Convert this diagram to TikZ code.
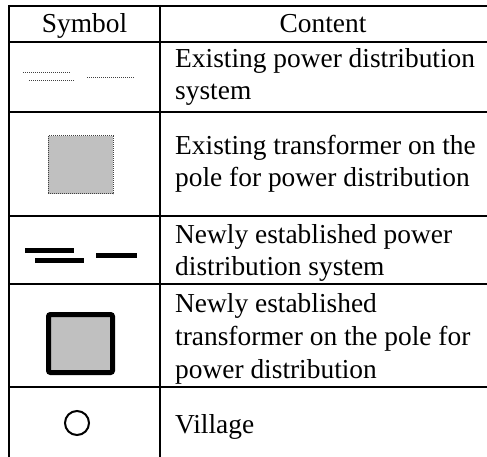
\documentclass[tikz,border=0pt]{standalone}
\usepackage{fontspec}
\setmainfont{Liberation Serif}
\definecolor{tgray}{HTML}{C0C0C0}
\tikzset{
  rule/.style={line width=2pt, line cap=rect},
  txt/.style={anchor=base west, inner sep=0pt, font=\fontsize{27.4}{32}\selectfont},
  hdr/.style={anchor=base, inner sep=0pt, font=\fontsize{27.4}{32}\selectfont},
  oldline/.style={line width=1pt, black!75, dash pattern=on 1pt off 1pt},
  newline/.style={line width=5pt, black},
  oldbox/.style={fill=tgray, draw=black!75, line width=1pt, dash pattern=on 1pt off 1pt},
  newbox/.style={fill=tgray, draw=black, line width=5pt, rounded corners=2pt},
}
\begin{document}
\begin{tikzpicture}[x=1pt,y=-1pt]
\useasboundingbox (0,0) rectangle (487,457);
% table rules
\draw[rule] (9,6) -- (487,6);
\draw[rule] (9,42) -- (487,42);
\draw[rule] (9,112) -- (487,112);
\draw[rule] (9,216) -- (487,216);
\draw[rule] (9,284) -- (487,284);
\draw[rule] (9,387) -- (487,387);
\draw[line width=2pt] (9,5) -- (9,457);
\draw[line width=2pt] (160,5) -- (160,457);
% header
\node[hdr] (hsym) at (84.5,33) {Symbol};
\node[hdr] (hcon) at (323,33) {Content};
% row 1
\draw[oldline] (23,73) -- (71,73);
\draw[oldline] (29,81) -- (74,81);
\draw[oldline] (87,78) -- (135,78);
\node[txt] (r1a) at (175,68) {Existing power distribution};
\node[txt] (r1b) at (175,100) {system};
% row 2
\draw[oldbox] (48,136) rectangle (113,194);
\node[txt] (r2a) at (175,155) {Existing transformer on the};
\node[txt] (r2b) at (175,187) {pole for power distribution};
% row 3
\draw[newline] (25,250.5) -- (74,250.5);
\draw[newline] (35,260.5) -- (84,260.5);
\draw[newline] (96,255.5) -- (137,255.5);
\node[txt] (r3a) at (175,243) {Newly established power};
\node[txt] (r3b) at (175,275) {distribution system};
% row 4
\draw[newbox] (48.5,314.5) rectangle (112.5,372.5);
\node[txt] (r4a) at (175,312) {Newly established};
\node[txt] (r4b) at (175,345) {transformer on the pole for};
\node[txt] (r4c) at (175,378) {power distribution};
% row 5
\draw[line width=2pt] (77,423) circle (12);
\node[txt] (r5a) at (175,433) {Village};
\end{tikzpicture}
\end{document}
